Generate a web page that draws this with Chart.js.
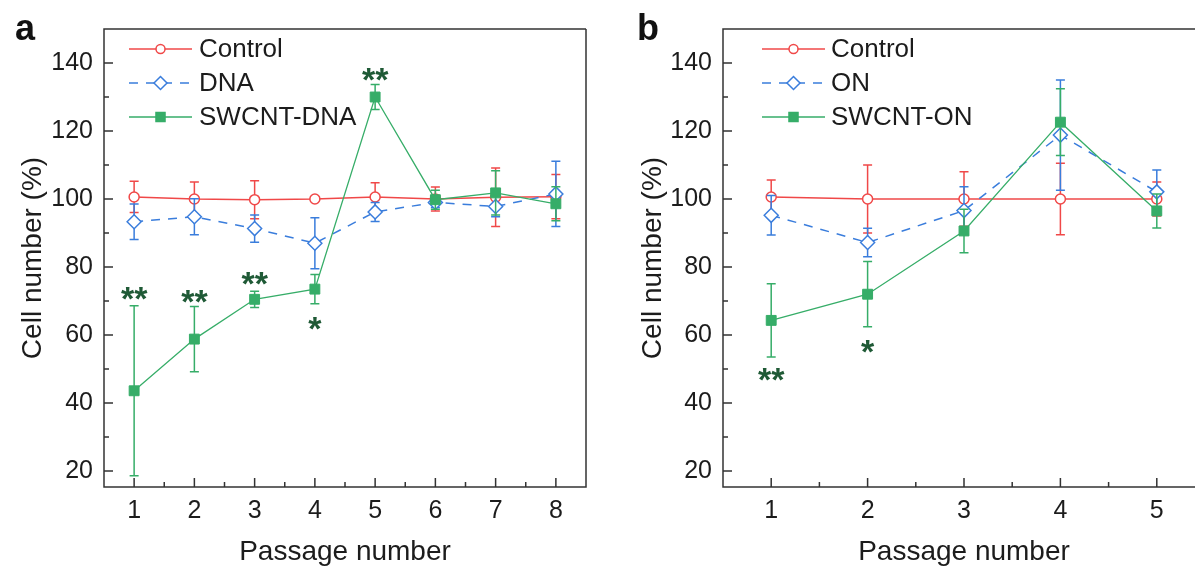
<!DOCTYPE html>
<html>
<head>
<meta charset="utf-8">
<script src="https://cdn.jsdelivr.net/npm/chart.js@4.4.0/dist/chart.umd.min.js"></script>
<style>
html, body { margin: 0; padding: 0; background: #fff; overflow: hidden; width: 1195px; height: 570px; }
.panel { position: absolute; top: 0; height: 570px; }
#pa { left: 0; width: 600px; }
#pb { left: 600px; width: 620px; }
canvas { display: block; }
</style>
</head>
<body>
<div class="panel" id="pa"><canvas id="chartA" width="600" height="570" style="width:600px;height:570px"></canvas></div>
<div class="panel" id="pb"><canvas id="chartB" width="620" height="570" style="width:620px;height:570px"></canvas></div>
<script>
// panel a
const passagesA = [1, 2, 3, 4, 5, 6, 7, 8]
const controlA = [100.6, 100, 99.8, 100, 100.6, 100, 100.5, 100.7]
const controlErrA = [4.6, 5, 5.6, 0.6, 4.2, 3.5, 8.6, 6.5]
const dnaA = [93.3, 94.8, 91.3, 87, 96.2, 99, 97.8, 101.5]
const dnaErrA = [5.2, 5.3, 4, 7.5, 2.8, 1.5, 3, 9.6]
const swcntA = [43.6, 58.8, 70.5, 73.5, 130, 99.8, 101.8, 98.6]
const swcntErrA = [25, 9.6, 2.4, 4.3, 3.7, 2.8, 6.5, 5]
const starsA = [[1, '**', 73], [2, '**', 72], [3, '**', 77.5], [4, '*', 64], [5, '**', 137.5]]

// panel b
const passagesB = [1, 2, 3, 4, 5]
const controlB = [100.6, 100, 100, 100, 100]
const controlErrB = [5, 10, 8, 10.5, 5]
const onB = [95.2, 87.2, 96.6, 118.8, 102.1]
const onErrB = [5.8, 4.2, 7, 16.2, 6.4]
const swcntB = [64.3, 72, 90.6, 122.6, 96.5]
const swcntErrB = [10.8, 9.6, 6.4, 9.8, 5]
const starsB = [[1, '**', 49], [2, '*', 57.5]]

const yTicks = [20, 40, 60, 80, 100, 120, 140]
const yMinor = [30, 50, 70, 90, 110, 130]

const FONT = 'Liberation Sans, Arial, sans-serif'
const TEXT = '#1c1c1c'
const RED = '#f04848'
const BLUE = '#3a7ddc'
const GREEN = '#36ad68'
const STAR = '#1f5a36'

function series(xs, ys) {
    return ys.map((y, i) => ({ x: xs[i], y: y }))
}

function makePanel(id, p) {
    const datasets = [
        {
            label: 'Control', data: series(p.xs, p.control), errorBars: p.controlErr,
            borderColor: RED, backgroundColor: '#fff', borderWidth: 1.5,
            pointStyle: 'circle', pointRadius: 5, pointBorderWidth: 1.5,
            pointBackgroundColor: '#fff', legendRadius: 4.5, order: 3
        },
        {
            label: p.names[1], data: series(p.xs, p.second), errorBars: p.secondErr,
            borderColor: BLUE, backgroundColor: '#fff', borderWidth: 1.5, borderDash: [9, 8],
            pointStyle: 'rectRot', pointRadius: 7, pointBorderWidth: 1.5,
            pointBackgroundColor: '#fff', legendRadius: 6.5, order: 2
        },
        {
            label: p.names[2], data: series(p.xs, p.swcnt), errorBars: p.swcntErr,
            borderColor: GREEN, backgroundColor: GREEN, borderWidth: 1.3,
            pointStyle: 'rect', pointRadius: 7, pointBorderWidth: 1,
            pointBackgroundColor: GREEN, legendRadius: 6.5, order: 1
        }
    ]

    const deco = {
        id: 'deco',
        beforeDatasetDraw(chart, args) {
            const ds = chart.data.datasets[args.index]
            const errs = ds.errorBars
            if (!errs) return
            const ctx = chart.ctx
            const y = chart.scales.y
            ctx.save()
            ctx.strokeStyle = ds.borderColor
            ctx.lineWidth = 1.5
            ctx.setLineDash([])
            args.meta.data.forEach((pt, i) => {
                const v = ds.data[i].y
                const top = y.getPixelForValue(v + errs[i])
                const bot = y.getPixelForValue(v - errs[i])
                ctx.beginPath()
                ctx.moveTo(pt.x, top); ctx.lineTo(pt.x, bot)
                ctx.moveTo(pt.x - 4.5, top); ctx.lineTo(pt.x + 4.5, top)
                ctx.moveTo(pt.x - 4.5, bot); ctx.lineTo(pt.x + 4.5, bot)
                ctx.stroke()
            })
            ctx.restore()
        },
        afterDraw(chart) {
            const ctx = chart.ctx
            const a = chart.chartArea
            const xs = chart.scales.x, ys = chart.scales.y
            ctx.save()
            // frame
            ctx.strokeStyle = '#333'
            ctx.lineWidth = 1.5
            ctx.beginPath()
            ctx.moveTo(a.right, a.top); ctx.lineTo(a.left, a.top)
            ctx.lineTo(a.left, a.bottom); ctx.lineTo(a.right, a.bottom)
            if (p.rightFrame) ctx.lineTo(a.right, a.top)
            ctx.stroke()
            // inward ticks
            ctx.beginPath()
            p.xs.forEach(v => {
                const px = xs.getPixelForValue(v)
                ctx.moveTo(px, a.bottom); ctx.lineTo(px, a.bottom - 9)
                const mx = xs.getPixelForValue(v + 0.5)
                if (v + 0.5 < xs.max) { ctx.moveTo(mx, a.bottom); ctx.lineTo(mx, a.bottom - 5) }
            })
            yTicks.forEach(v => {
                const py = ys.getPixelForValue(v)
                ctx.moveTo(a.left, py); ctx.lineTo(a.left + 9, py)
            })
            yMinor.forEach(v => {
                const py = ys.getPixelForValue(v)
                ctx.moveTo(a.left, py); ctx.lineTo(a.left + 5, py)
            })
            ctx.stroke()

            // legend
            chart.data.datasets.forEach((ds, i) => {
                const ly = a.top + 20 + i * 34
                const x0 = a.left + p.legend[0], x1 = a.left + p.legend[1]
                ctx.strokeStyle = ds.borderColor
                ctx.lineWidth = ds.borderWidth
                ctx.setLineDash(ds.borderDash || [])
                ctx.beginPath(); ctx.moveTo(x0, ly); ctx.lineTo(x1, ly); ctx.stroke()
                ctx.setLineDash([])
                ctx.fillStyle = ds.pointBackgroundColor
                Chart.helpers.drawPoint(ctx, {
                    pointStyle: ds.pointStyle, radius: ds.legendRadius, rotation: 0,
                    borderWidth: ds.pointBorderWidth
                }, (x0 + x1) / 2, ly)
                ctx.fillStyle = TEXT
                ctx.font = '26px ' + FONT
                ctx.textBaseline = 'middle'
                ctx.textAlign = 'left'
                ctx.fillText(ds.label, a.left + p.legend[2], ly + 1)
            })

            // significance stars
            ctx.fillStyle = STAR
            ctx.font = 'bold 34px ' + FONT
            ctx.textAlign = 'center'
            ctx.textBaseline = 'alphabetic'
            p.stars.forEach(s => {
                ctx.fillText(s[1], xs.getPixelForValue(s[0]), ys.getPixelForValue(s[2]) + 19)
            })

            // panel letter
            ctx.fillStyle = '#111'
            ctx.font = 'bold 36px ' + FONT
            ctx.textAlign = 'left'
            ctx.fillText(p.letter, p.letterX, 40)
            ctx.restore()
        }
    }

    return new Chart(document.getElementById(id), {
        type: 'line',
        data: { datasets: datasets },
        plugins: [deco],
        options: {
            responsive: false,
            animation: false,
            layout: { padding: { top: 29, right: p.padRight, left: 0, bottom: 0 } },
            plugins: { legend: { display: false }, tooltip: { enabled: false } },
            elements: { line: { tension: 0 } },
            scales: {
                x: {
                    type: 'linear', min: 0.5, max: p.xs.length + 0.5,
                    afterBuildTicks: s => { s.ticks = p.xs.map(v => ({ value: v })) },
                    afterFit: s => { s.height = 83 },
                    grid: { display: false, drawTicks: false },
                    border: { display: false },
                    ticks: { padding: 9, color: TEXT, font: { family: FONT, size: 25 } },
                    title: {
                        display: true, text: 'Passage number', color: TEXT,
                        font: { family: FONT, size: 28 }, padding: { top: 0, bottom: 1 }
                    }
                },
                y: {
                    min: 15.3, max: 150,
                    afterBuildTicks: s => { s.ticks = yTicks.map(v => ({ value: v })) },
                    afterFit: s => { s.width = p.yWidth },
                    grid: { display: false, drawTicks: false },
                    border: { display: false },
                    ticks: { padding: 11, color: TEXT, font: { family: FONT, size: 25 } },
                    title: {
                        display: true, text: 'Cell number (%)', color: TEXT,
                        font: { family: FONT, size: 28 }, padding: { top: p.yTitlePad, bottom: 0 }
                    }
                }
            }
        }
    })
}

makePanel('chartA', {
    xs: passagesA, control: controlA, controlErr: controlErrA,
    second: dnaA, secondErr: dnaErrA, swcnt: swcntA, swcntErr: swcntErrA,
    names: ['Control', 'DNA', 'SWCNT-DNA'], stars: starsA,
    legend: [25, 88, 95], letter: 'a', letterX: 15,
    yWidth: 104, padRight: 14, yTitlePad: 16, rightFrame: true
})

makePanel('chartB', {
    xs: passagesB, control: controlB, controlErr: controlErrB,
    second: onB, secondErr: onErrB, swcnt: swcntB, swcntErr: swcntErrB,
    names: ['Control', 'ON', 'SWCNT-ON'], stars: starsB,
    legend: [39, 102, 108], letter: 'b', letterX: 37,
    yWidth: 123, padRight: 15, yTitlePad: 36, rightFrame: false
})
</script>
</body>
</html>
